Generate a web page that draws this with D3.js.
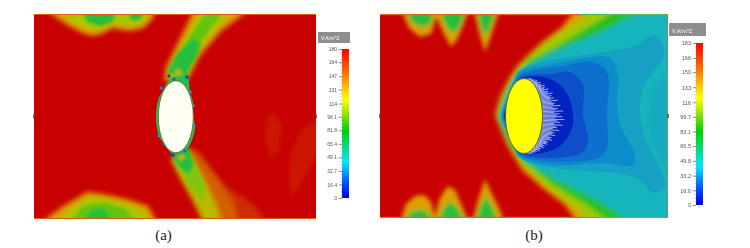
<!DOCTYPE html>
<html>
<head>
<meta charset="utf-8">
<script src="https://cdn.jsdelivr.net/npm/d3@7"></script>
<style>
    html, body { margin: 0; padding: 0; background: #fff; }
    svg { display: block; }
    .tick text { font-family: "Liberation Sans", sans-serif; fill: #555; }
    .caption { font-family: "Liberation Serif", serif; font-size: 15px; fill: #222; }
</style>
</head>
<body>
<div id="chart"></div>
<script>
// Legend tick labels of both panels
const legendTicksA = [0, 16.4, 32.7, 49.1, 65.4, 81.8, 98.1, 114, 131, 147, 164, 180];
const legendTicksB = [0, 16.6, 33.2, 49.8, 66.5, 83.1, 99.7, 116, 133, 150, 166, 183];
const unitLabel = 'V.A/m^2';

// Colour ramp of the legends (fraction of the range)
const legendOffsets = [0, 0.1, 0.24, 0.45, 0.55, 0.66, 0.82, 1];
const legendColors = ['#0000e0', '#0050ff', '#00e8ff', '#00d000', '#80e000', '#ffff00', '#ff8000', '#ff0000'];

// Colour ramp of the field itself (V.A/m^2)
const fieldValues = [10, 20, 30, 40, 50, 70, 100, 125, 150, 170, 180];
const fieldColors = ['#0420c0', '#0850c8', '#0c70cc', '#108ccc', '#14a0c4', '#16b4bc', '#28c020', '#a4c800', '#dca000', '#ce3a04', '#c80000'];

// Panel (a): iso-outlines, in field units from the top-left corner
const aTopLeftOuter = [[12,-6],[17,0],[35,12],[48,19],[59,22],[70,19],[79,14],[88,16],[96,17],[110,14],[119,4],[122,-6]];
const aTopLeftYellow = [[22,-6],[39,8],[59,17],[79,10],[96,12],[109,9],[115,-6]];
const aTopLeftGreen = [[46,-6],[54,8],[66,12],[78,8],[84,-6]];
const aTopLeftGreen2 = [[93,-6],[97,6],[106,6],[111,-6]];
const aDiagOuter = [[160,-4],[132,53],[130,67],[152,69],[167,40],[187,17],[207,2],[214,-4]];
const aDiagYellow = [[168,-4],[139,50],[136,63],[150,65],[163,38],[183,13],[198,-4]];
const aDiagLight = [[174,-4],[148,34],[138,54],[139,63],[151,63],[163,34],[180,9],[192,-4]];
const aDiagGreen = [[133,58],[143,40],[158,25],[167,29],[162,44],[154,57],[152,65]];
const aDiagSpot = [[140,59],[144,54],[148,59],[144,63]];
const aBottomLeftOuter = [[8,212],[13,204],[28,193],[53,178],[69,180],[93,185],[114,192],[125,212]];
const aBottomLeftYellow = [[20,212],[35,197],[56,183],[70,185],[92,190],[109,197],[118,212]];
const aBottomLeftLight = [[34,212],[49,192],[70,189],[91,195],[106,212]];
const aBottomLeftGreen = [[46,212],[57,196],[69,194],[84,212]];
const aLowerFaint = [[137,143],[143,158],[156,182],[169,212],[230,212],[228,200],[216,188],[193,173],[178,156],[166,139],[154,133]];
const aLowerOrange = [[137,142],[145,160],[157,182],[171,212],[204,212],[200,190],[186,168],[173,150],[159,135]];
const aLowerYellow = [[137,146],[145,162],[155,180],[167,200],[173,212],[188,212],[182,190],[172,170],[161,150],[154,136]];
const aLowerLight = [[139,146],[147,158],[155,172],[171,188],[170,168],[161,150],[154,136]];
const aLowerGreen = [[138,143],[155,135],[160,153],[154,160],[146,154]];
const aLowerSpot = [[144,143],[148,139],[151,143],[147,147]];
const aFaint1 = [[232,105],[240,98],[248,110],[246,135],[238,145],[231,130]];
const aFaint2 = [[255,170],[256,140],[268,115],[284,105],[284,140],[270,165],[258,183]];
const aHoleRing = [[128,78],[133,69],[138,64],[153,64],[156,78],[159,88],[159,99],[161,114],[158,126],[154,134],[149,140],[139,140],[129,129],[124,119],[122,103],[124,86]];
const aRingSpotsX = [135, 140, 153, 139, 151, 127, 156, 125, 160, 130, 159];
const aRingSpotsY = [62, 65, 63, 141, 137, 74, 78, 122, 112, 130, 92];
const aRingSpotsV = [20, 30, 20, 20, 30, 40, 50, 50, 60, 30, 60];
const aHole = { cx: 141.8, cy: 102.7, rx: 17.5, ry: 36 };

// Panel (b): iso-outlines
const bOrange = [[195,-4],[182,13],[162,28],[138,51],[128,66],[120,83],[115,101],[118,109],[127,131],[142,156],[165,176],[185,191],[198,210],[300,210],[300,-4]];
const bYellow = [[212,-4],[198,8],[173,23],[150,40],[138,54],[129,68],[121,85],[116.5,101],[119,109],[128,131],[144,153],[173,178],[197,195],[208,210],[300,210],[300,-4]];
const bGreen = [[236,-4],[205,15],[173,34],[150,46],[138,58],[130,70],[122,87],[118,101],[120,109],[130,130],[146,150],[173,171],[205,190],[232,210],[300,210],[300,-4]];
const bTeal = [[262,-4],[225,16],[173,38],[145,54],[134,68],[126,84],[120,101],[122,109],[133,128],[148,148],[173,164],[215,185],[255,210],[300,210],[300,-4]];
const bBlue50 = [[121,102],[126,86],[133,68],[140,56],[173,46],[223,38],[257,31],[273,21],[283,31],[283,44],[273,58],[263,74],[260,98],[265,124],[277,148],[285,171],[273,179],[257,164],[223,158],[173,154],[140,144],[132,130],[125,114]];
const bBlue40 = [[122,102],[127,86],[134,68],[141,58],[173,50],[230,44],[238,61],[237,84],[240,111],[255,141],[253,151],[223,149],[173,151],[140,142],[133,130],[126,114]];
const bBlue30 = [[123,102],[128,86],[135,68],[142,60],[183,52],[213,48],[227,58],[227,101],[227,134],[220,143],[176,148],[140,141],[134,130],[127,114]];
const bBlue20 = [[124,102],[129,86],[136,68],[143,62],[170,60],[190,58],[203,71],[203,101],[208,124],[203,138],[173,144],[143,140],[135,130],[128,114]];
const bBlue10 = [[124.5,102],[130,86],[137,70],[144,64],[167,64],[183,74],[192,94],[192,114],[177,134],[142,139],[136,130],[129,114]];
const bFinger1Top = [[20,-6],[29,14],[40,23],[51,20],[59,-6]];
const bFinger1TopGreen = [[25,-6],[32,9],[42,13],[51,10],[55,-6]];
const bFinger2Top = [[52,-6],[64,20],[71,33],[78,24],[90,-6]];
const bFinger2TopGreen = [[58,-6],[67,14],[73,20],[81,11],[86,-6]];
const bFinger3Top = [[93,-6],[100,22],[105,38],[111,22],[120,-6]];
const bFinger3TopGreen = [[96,-6],[101,13],[105,23],[110,14],[117,-6]];
const bFinger1Low = [[19,212],[26,190],[35,182],[44,181],[51,188],[57,212]];
const bFinger1LowGreen = [[25,212],[30,198],[41,195],[50,200],[54,212]];
const bFinger2Low = [[52,212],[60,184],[68,172],[75,176],[82,192],[91,212]];
const bFinger2LowGreen = [[56,212],[63,195],[71,187],[79,196],[85,212]];
const bFinger3Low = [[91,212],[98,186],[105,165],[111,178],[121,198],[124,212]];
const bFinger3LowGreen = [[95,212],[100,193],[106,182],[114,196],[120,212]];
const bRightLight = [[285,60],[273,75],[268,98],[270,124],[280,145],[290,160]];
const bHole = { cx: 144, cy: 102, rx: 18.5, ry: 37.5 };
// White hairs on the lee side of the hole, from the top to the bottom of the arc
const bHairLengths = [3, 5, 4, 7, 5, 8, 4, 9, 6, 11, 7, 8, 12, 6, 10, 8, 13, 7, 11, 9, 14, 8, 12, 10, 16, 9, 13, 11, 15, 10, 18, 11, 14, 12, 19, 11, 16, 13, 21, 12, 17, 14, 20, 13, 22, 15, 18, 12, 21, 14, 16, 12, 19, 11, 15, 13, 17, 10, 14, 12, 16, 9, 13, 11, 14, 8, 12, 10, 13, 7, 11, 9, 12, 6, 10, 8, 9, 5, 8, 6, 7, 4, 6, 3];

const aOuterLayers = [
    [176, aFaint1], [176, aFaint2], [172, aLowerFaint], [163, aLowerOrange],
    [150, aTopLeftOuter], [150, aDiagOuter], [150, aBottomLeftOuter],
    [135, aLowerYellow],
    [125, aTopLeftYellow], [125, aDiagYellow], [125, aBottomLeftYellow]
];
const aCoreLayers = [
    [118, aLowerLight], [112, aDiagLight], [112, aBottomLeftLight],
    [95, aTopLeftGreen], [95, aTopLeftGreen2], [95, aDiagGreen], [95, aBottomLeftGreen], [95, aLowerGreen],
    [135, aDiagSpot], [150, aLowerSpot]
];
const bBandLayers = [[150, bOrange], [125, bYellow], [100, bGreen], [70, bTeal]];
const bFingerLayers = [
    [150, bFinger1Top], [150, bFinger2Top], [150, bFinger3Top],
    [150, bFinger1Low], [150, bFinger2Low], [150, bFinger3Low],
    [95, bFinger1TopGreen], [95, bFinger2TopGreen], [95, bFinger3TopGreen],
    [95, bFinger1LowGreen], [95, bFinger2LowGreen], [95, bFinger3LowGreen]
];
const bCoolLayers = [[50, bBlue50], [40, bBlue40], [30, bBlue30], [20, bBlue20], [10, bBlue10]];

const WIDTH = 750;
const HEIGHT = 248;
const PANEL_A = { left: 34, top: 14, width: 282, height: 205 };
const PANEL_B = { left: 380, top: 14, width: 288, height: 204 };

const svg = d3.select('#chart').append('svg')
    .attr('width', WIDTH)
    .attr('height', HEIGHT);

const defs = svg.append('defs');

[['core', 1.5], ['finger', 2.2], ['band', 2.8], ['crisp', 0.7], ['hair-blur', 0.35], ['text-blur', 0.25]].forEach(([id, dev]) => {
    defs.append('filter')
        .attr('id', id)
        .attr('x', '-10%').attr('y', '-10%')
        .attr('width', '120%').attr('height', '120%')
        .append('feGaussianBlur')
        .attr('stdDeviation', dev);
});

const legendGradient = defs.append('linearGradient')
    .attr('id', 'legend-ramp')
    .attr('x1', 0).attr('x2', 0).attr('y1', 1).attr('y2', 0);
legendOffsets.forEach((o, i) => {
    legendGradient.append('stop').attr('offset', o).attr('stop-color', legendColors[i]);
});

const fieldColor = d3.scaleLinear().domain(fieldValues).range(fieldColors);

const smoothOutline = d3.line().curve(d3.curveCatmullRomClosed.alpha(0.5));
const straightOutline = d3.line().curve(d3.curveLinearClosed);

/**
 * Base red rectangle + clipped group, returns the scales and the group
 */
function makePanel(panel, id) {
    const x = d3.scaleLinear().domain([0, panel.width]).range([panel.left, panel.left + panel.width]);
    const y = d3.scaleLinear().domain([0, panel.height]).range([panel.top, panel.top + panel.height]);

    defs.append('clipPath').attr('id', id)
        .append('rect')
        .attr('x', panel.left).attr('y', panel.top)
        .attr('width', panel.width).attr('height', panel.height);

    const g = svg.append('g').attr('clip-path', `url(#${id})`);
    g.append('rect')
        .attr('x', panel.left).attr('y', panel.top)
        .attr('width', panel.width).attr('height', panel.height)
        .attr('fill', fieldColor(180));
    return { x, y, g };
}

function drawLayers(parent, layers, x, y, filterId, outline) {
    parent.append('g')
        .attr('filter', `url(#${filterId})`)
        .selectAll('path')
        .data(layers)
        .enter()
        .append('path')
        .attr('d', d => outline(d[1].map(p => [x(p[0]), y(p[1])])))
        .attr('fill', d => fieldColor(d[0]));
}

function drawHole(parent, hole, x, y, fill, stroke) {
    parent.append('ellipse')
        .attr('cx', x(hole.cx)).attr('cy', y(hole.cy))
        .attr('rx', x(hole.rx) - x(0)).attr('ry', y(hole.ry) - y(0))
        .attr('fill', fill)
        .attr('stroke', stroke)
        .attr('stroke-width', 0.8);
}

function drawLegend(barLeft, barTop, barBottom, head, ticks, labelSize) {
    const g = svg.append('g').attr('filter', 'url(#text-blur)');
    const barWidth = 7;
    const top = ticks[ticks.length - 1];
    const scale = d3.scaleLinear().domain([0, top]).range([barBottom, barTop]);

    g.append('rect')
        .attr('x', head.x).attr('y', head.y)
        .attr('width', head.w).attr('height', head.h)
        .attr('fill', '#8e8e8e');
    g.append('text')
        .attr('x', head.x + 3).attr('y', head.y + head.h - 3.2)
        .attr('font-family', '"Liberation Sans", sans-serif')
        .attr('font-size', labelSize)
        .attr('fill', '#fff')
        .text(unitLabel);

    g.append('rect')
        .attr('x', barLeft).attr('y', barTop)
        .attr('width', barWidth).attr('height', barBottom - barTop)
        .attr('fill', 'url(#legend-ramp)');

    // Graduation mineure puis majeure
    const minor = d3.axisLeft(scale).tickValues(d3.range(0, 45).map(i => i * top / 44)).tickSize(1.5).tickFormat('');
    g.append('g').attr('transform', `translate(${barLeft},0)`).call(minor)
        .call(a => a.select('.domain').remove())
        .selectAll('line').attr('stroke', '#777').attr('stroke-width', 0.4);

    const axis = d3.axisLeft(scale).tickValues(ticks).tickSize(3.5).tickPadding(1.5).tickFormat(d => d);
    const ag = g.append('g').attr('transform', `translate(${barLeft},0)`).call(axis);
    ag.select('.domain').remove();
    ag.selectAll('line').attr('stroke', '#555').attr('stroke-width', 0.6);
    ag.selectAll('text').attr('font-size', labelSize);
}

function drawEdgeMarks(panel) {
    [panel.left, panel.left + panel.width].forEach(px => {
        svg.append('rect')
            .attr('x', px - 0.75).attr('y', panel.top + panel.height / 2 - 2)
            .attr('width', 1.5).attr('height', 4)
            .attr('fill', '#444');
    });
}

// ---- Panel (a) ----
const a = makePanel(PANEL_A, 'clip-a');
drawLayers(a.g, aOuterLayers, a.x, a.y, 'band', straightOutline);
drawLayers(a.g, aCoreLayers, a.x, a.y, 'core', straightOutline);

a.g.append('path')
    .attr('d', smoothOutline(aHoleRing.map(p => [a.x(p[0]), a.y(p[1])])))
    .attr('fill', fieldColor(90))
    .attr('filter', 'url(#crisp)');

a.g.selectAll('.ring-spot')
    .data(aRingSpotsX)
    .enter()
    .append('circle')
    .attr('class', 'ring-spot')
    .attr('cx', d => a.x(d))
    .attr('cy', (d, i) => a.y(aRingSpotsY[i]))
    .attr('r', 1.7)
    .attr('fill', (d, i) => fieldColor(aRingSpotsV[i]))
    .attr('filter', 'url(#crisp)');

drawHole(a.g, aHole, a.x, a.y, '#fffff2', '#7a5a20');

a.g.append('rect')
    .attr('x', PANEL_A.left).attr('y', PANEL_A.top)
    .attr('width', PANEL_A.width).attr('height', 1)
    .attr('fill', '#e05a10');
a.g.append('rect')
    .attr('x', PANEL_A.left).attr('y', PANEL_A.top + PANEL_A.height - 1)
    .attr('width', PANEL_A.width).attr('height', 1)
    .attr('fill', '#e05a10');
drawEdgeMarks(PANEL_A);

// ---- Panel (b) ----
const b = makePanel(PANEL_B, 'clip-b');
drawLayers(b.g, bBandLayers, b.x, b.y, 'band', straightOutline);
drawLayers(b.g, bFingerLayers, b.x, b.y, 'finger', straightOutline);
drawLayers(b.g, [[62, bRightLight]], b.x, b.y, 'core', smoothOutline);
drawLayers(b.g, bCoolLayers, b.x, b.y, 'crisp', smoothOutline);

// Cheveux blancs autour du trou
const hairAngle = d3.scaleLinear()
    .domain([0, bHairLengths.length - 1])
    .range([-1.4, 1.4]);

b.g.append('g')
    .attr('filter', 'url(#hair-blur)')
    .selectAll('line')
    .data(bHairLengths)
    .enter()
    .append('line')
    .attr('x1', (d, i) => b.x(bHole.cx + bHole.rx * Math.cos(hairAngle(i))))
    .attr('y1', (d, i) => b.y(bHole.cy + bHole.ry * Math.sin(hairAngle(i))))
    .attr('x2', (d, i) => b.x(bHole.cx + (bHole.rx + d) * Math.cos(hairAngle(i))))
    .attr('y2', (d, i) => b.y(bHole.cy + bHole.ry * Math.sin(hairAngle(i)) + d * 0.25 * Math.sin(hairAngle(i))))
    .attr('stroke', '#eeeefa')
    .attr('stroke-width', 0.8)
    .attr('stroke-opacity', 0.85);

drawHole(b.g, bHole, b.x, b.y, '#ffff00', '#5a5a10');

// Bordure du panneau (b)
b.g.append('rect')
    .attr('x', PANEL_B.left).attr('y', PANEL_B.top)
    .attr('width', 200).attr('height', 1.2)
    .attr('fill', '#e06a20');
b.g.append('rect')
    .attr('x', PANEL_B.left + 200).attr('y', PANEL_B.top)
    .attr('width', PANEL_B.width - 200).attr('height', 1.2)
    .attr('fill', '#58b860');
b.g.append('rect')
    .attr('x', PANEL_B.left).attr('y', PANEL_B.top + PANEL_B.height - 1.2)
    .attr('width', 200).attr('height', 1.2)
    .attr('fill', '#e06a20');
b.g.append('rect')
    .attr('x', PANEL_B.left + 200).attr('y', PANEL_B.top + PANEL_B.height - 1.2)
    .attr('width', PANEL_B.width - 200).attr('height', 1.2)
    .attr('fill', '#58b860');
b.g.append('rect')
    .attr('x', PANEL_B.left + PANEL_B.width - 2).attr('y', PANEL_B.top)
    .attr('width', 2).attr('height', PANEL_B.height)
    .attr('fill', '#4aa088');
drawEdgeMarks(PANEL_B);

// ---- Legends ----
drawLegend(342, 49, 198, { x: 318, y: 32, w: 32, h: 11 }, legendTicksA, 5);
drawLegend(696, 43, 205, { x: 669, y: 23, w: 37, h: 13 }, legendTicksB, 5.5);

// ---- Captions ----
svg.append('text').attr('class', 'caption')
    .attr('x', 163.5).attr('y', 240).attr('text-anchor', 'middle').text('(a)');
svg.append('text').attr('class', 'caption')
    .attr('x', 534).attr('y', 240).attr('text-anchor', 'middle').text('(b)');
</script>
</body>
</html>
